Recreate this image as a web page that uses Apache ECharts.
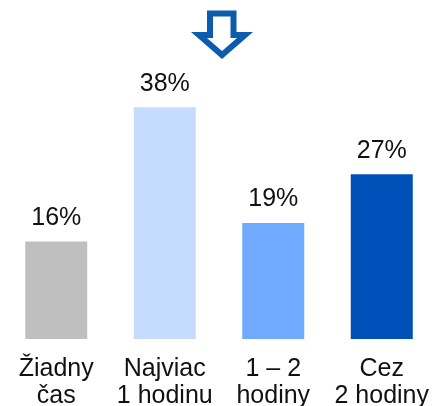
<!DOCTYPE html>
<html>
<head>
<meta charset="utf-8">
<script src="https://cdn.jsdelivr.net/npm/echarts@6/dist/echarts.min.js"></script>
<style>
html, body { margin: 0; padding: 0; background: #fff; }
#myChart { width: 434px; height: 406px; }
</style>
</head>
<body>
<div id="myChart"></div>
<script>
var categories = ["Žiadny\nčas", "Najviac\n1 hodinu", "1 – 2\nhodiny", "Cez\n2 hodiny"];
var values = [16, 38, 19, 27];
var barColors = ["#bfbfbf", "#c6dcff", "#70aaff", "#0050b9"];

var myChart = echarts.init(document.getElementById('myChart'));

var seriesData = [];
for (var i = 0; i < values.length; i++) {
	seriesData.push({ value: values[i], itemStyle: { color: barColors[i] } });
}

var option = {
	animation: false,
	grid: { left: 2, width: 434, top: 95, bottom: 67, outerBoundsMode: 'none' },
	xAxis: {
		type: 'category',
		data: categories,
		axisLine: { show: false },
		axisTick: { show: false },
		axisLabel: {
			interval: 0,
			margin: 17,
			color: '#111',
			fontFamily: 'Liberation Sans',
			fontSize: 25,
			lineHeight: 27
		}
	},
	yAxis: {
		type: 'value',
		min: 0,
		max: 40,
		show: false
	},
	series: [{
		type: 'bar',
		barWidth: 62,
		data: seriesData,
		label: {
			show: true,
			position: 'top',
			distance: 11,
			formatter: '{c}%',
			color: '#111',
			fontFamily: 'Liberation Sans',
			fontSize: 25
		}
	}],
	// šípka nadol
	graphic: [{
		type: 'polygon',
		shape: {
			points: [[210, 13.5], [233.5, 13.5], [233.5, 35], [245, 35], [222, 55], [199, 35], [210, 35]]
		},
		style: { fill: '#fff', stroke: '#0b5cad', lineWidth: 6, lineJoin: 'miter' }
	}]
};

myChart.setOption(option);
</script>
</body>
</html>
